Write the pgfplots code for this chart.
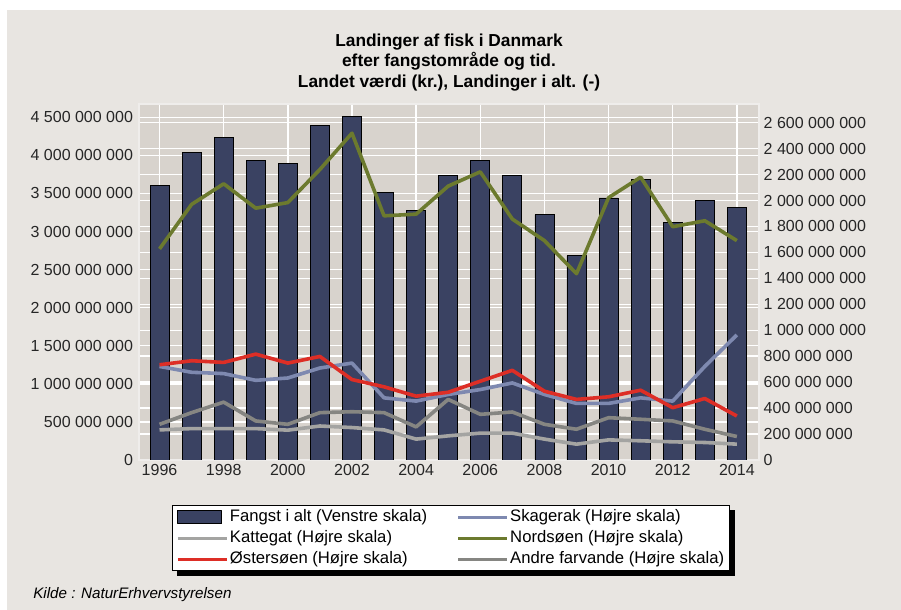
\documentclass[border=0pt]{standalone}
\usepackage{pgfplots}
\pgfplotsset{compat=1.18}
\usepackage{pgfplotstable}
\usepackage{fontspec}
\setmainfont{Liberation Sans}
\definecolor{outerbg}{HTML}{E8E5E1}
\definecolor{plotbg}{HTML}{D8D3CD}
\definecolor{barfill}{HTML}{3A4262}
\definecolor{skag}{HTML}{7E89B0}
\definecolor{katt}{HTML}{A4A4A2}
\definecolor{nord}{HTML}{6C7A2E}
\definecolor{oster}{HTML}{DD2E26}
\definecolor{andre}{HTML}{868682}
\pgfdeclarelayer{panel}
\pgfdeclarelayer{shadowlayer}
\pgfsetlayers{panel,shadowlayer,main}

\pgfplotstableread{
year fangst
1996 3600000000
1997 4040000000
1998 4230000000
1999 3930000000
2000 3890000000
2001 4390000000
2002 4510000000
2003 3510000000
2004 3280000000
2005 3730000000
2006 3930000000
2007 3730000000
2008 3220000000
2009 2680000000
2010 3440000000
2011 3680000000
2012 3120000000
2013 3410000000
2014 3320000000
}\fangst

\pgfplotstableread{
year skagerak kattegat nordsoen ostersoen andre
1996 721000000 232000000 1627000000 734000000 275000000
1997 676000000 242000000 1970000000 765000000 365000000
1998 666000000 242000000 2129000000 752000000 446000000
1999 614000000 242000000 1941000000 816000000 301000000
2000 632000000 230000000 1984000000 747000000 275000000
2001 709000000 262000000 2239000000 798000000 365000000
2002 747000000 250000000 2519000000 620000000 372000000
2003 479000000 232000000 1882000000 564000000 365000000
2004 454000000 161000000 1895000000 492000000 255000000
2005 505000000 186000000 2111000000 522000000 467000000
2006 543000000 207000000 2221000000 607000000 352000000
2007 594000000 207000000 1857000000 691000000 370000000
2008 505000000 161000000 1691000000 530000000 275000000
2009 436000000 122000000 1436000000 467000000 237000000
2010 436000000 155000000 2022000000 487000000 326000000
2011 479000000 148000000 2180000000 538000000 314000000
2012 454000000 140000000 1798000000 403000000 301000000
2013 721000000 135000000 1844000000 474000000 237000000
2014 964000000 122000000 1691000000 339000000 181000000
}\regions

\pgfplotsset{
  common/.style={
    scale only axis, width=465pt, height=267pt,
    at={(0pt,0pt)}, anchor=south west,
    xmin=1995.36, xmax=2014.69,
    scaled y ticks=false, scaled x ticks=false,
    major tick length=0pt,
    tick label style={font=\fontsize{12}{14}\selectfont, text=black!85},
    grid style={white, line width=1.1pt},
    axis line style={draw=white!60!plotbg, line width=0.8pt},
  },
}

\begin{document}
\begin{tikzpicture}
\begin{pgfonlayer}{panel}
\fill[white, use as bounding box] (-104.25pt,-112.5pt) rectangle (571.5pt,345pt);
\fill[outerbg] (-99pt,-112.5pt) rectangle (571.5pt,337.5pt);
\end{pgfonlayer}

% background + right-scale grid
\begin{axis}[common,
  axis background/.style={fill=plotbg},
  ymin=0, ymax=2744000000,
  ytick={0,200000000,400000000,600000000,800000000,1000000000,1200000000,1400000000,1600000000,1800000000,2000000000,2200000000,2400000000,2600000000},
  yticklabels={}, xtick=\empty,
  ymajorgrids,
]
\addplot[draw=none] coordinates {(2000,0)};
\end{axis}

% left scale: bars
\begin{axis}[common,
  ymin=0, ymax=4674000000,
  ytick={0,500000000,1000000000,1500000000,2000000000,2500000000,3000000000,3500000000,4000000000,4500000000},
  yticklabels={0,500 000 000,1 000 000 000,1 500 000 000,2 000 000 000,2 500 000 000,3 000 000 000,3 500 000 000,4 000 000 000,4 500 000 000},
  xtick={1996,1998,2000,2002,2004,2006,2008,2010,2012,2014},
  xticklabels={1996,1998,2000,2002,2004,2006,2008,2010,2012,2014},
  ymajorgrids, xmajorgrids,
  yticklabel style={xshift=-1pt},
  ybar, bar width=14.25pt,
]
\addplot[fill=barfill, draw=black, line width=0.6pt] table[x=year,y=fangst] {\fangst};
\end{axis}

% right scale: lines
\begin{axis}[common,
  ymin=0, ymax=2744000000,
  axis y line*=right, axis x line=none,
  ytick={0,200000000,400000000,600000000,800000000,1000000000,1200000000,1400000000,1600000000,1800000000,2000000000,2200000000,2400000000,2600000000},
  yticklabels={0,200 000 000,400 000 000,600 000 000,800 000 000,1 000 000 000,1 200 000 000,1 400 000 000,1 600 000 000,1 800 000 000,2 000 000 000,2 200 000 000,2 400 000 000,2 600 000 000},
  xtick=\empty,
  every axis plot/.append style={line width=2.7pt, line join=round, mark=none},
  legend image code/.code={\draw[#1, line width=2.2pt] (0pt,0pt) -- (37pt,0pt);},
  legend columns=2,
  legend cell align=left,
  legend style={
    name=leg,
    at={(0.0532,-0.1264)}, anchor=north west,
    draw=black, fill=white, line width=0.6pt,
    font=\fontsize{12.5}{14}\selectfont,
    inner xsep=3pt, inner ysep=1pt,
    row sep=0pt,
    nodes={inner xsep=1pt, inner ysep=2.2pt, text height=8.8pt, text depth=2.5pt},
    /tikz/every even column/.append style={column sep=21pt},
  },
]
\addlegendimage{legend image code/.code={\draw[fill=barfill,draw=black,line width=0.6pt] (0pt,-5pt) rectangle (33pt,5pt);}}
\addlegendentry{Fangst i alt (Venstre skala)}
\addplot[skag] table[x=year,y=skagerak] {\regions};
\addlegendentry{Skagerak (Højre skala)}
\addplot[katt] table[x=year,y=kattegat] {\regions};
\addlegendentry{Kattegat (Højre skala)}
\addplot[nord] table[x=year,y=nordsoen] {\regions};
\addlegendentry{Nordsøen (Højre skala)}
\addplot[oster] table[x=year,y=ostersoen] {\regions};
\addlegendentry{Østersøen (Højre skala)}
\addplot[andre] table[x=year,y=andre] {\regions};
\addlegendentry{Andre farvande (Højre skala)}
\end{axis}

\begin{pgfonlayer}{shadowlayer}
\fill[black] ([shift={(3.5pt,-3.5pt)}]leg.south west) rectangle ([shift={(3.5pt,-3.5pt)}]leg.north east);
\end{pgfonlayer}

\node[font=\fontsize{13}{15.5}\selectfont\bfseries, align=center] at (232.5pt,298.1pt)
  {Landinger af fisk i Danmark\\efter fangstområde og tid.\\Landet værdi (kr.), Landinger i alt. (-)};
\node[font=\fontsize{11.4}{13}\selectfont\itshape, anchor=west, inner sep=0pt] at (-79.5pt,-101.25pt)
  {Kilde : NaturErhvervstyrelsen};
\end{tikzpicture}
\end{document}
